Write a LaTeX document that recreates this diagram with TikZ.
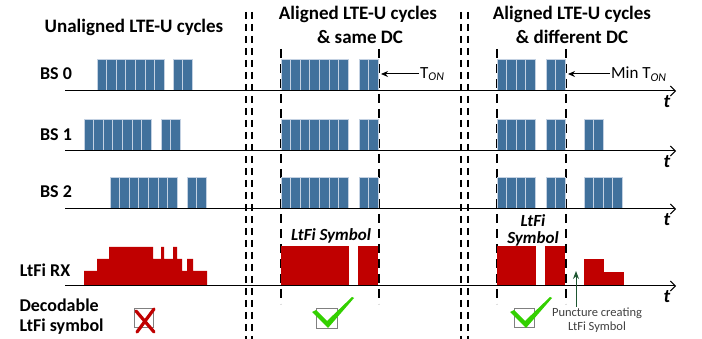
\documentclass[tikz,border=0pt]{standalone}
\usepackage{fontspec}
\setmainfont{Carlito}
\usetikzlibrary{arrows.meta}
\definecolor{blk}{HTML}{41719C}
\definecolor{blkedge}{HTML}{C3D1E2}
\definecolor{rx}{HTML}{C00000}
\definecolor{chk}{HTML}{33D000}
\definecolor{punc}{HTML}{1E5631}
\definecolor{txtgray}{HTML}{404040}
\newcommand\blkrow[3]{%
  \foreach \i in {1,...,#2} {\draw[blockbox] ({#1+(\i-1)*9.6},#3-1) rectangle ++(9.6,-31);}}
\begin{document}
\begin{tikzpicture}[x=1pt,y=-1pt,
  blockbox/.style={fill=blk,draw=blkedge,line width=0.7pt},
  rxbox/.style={fill=rx,draw=none},
  axisline/.style={line width=1pt,-{Straight Barb[length=5pt,width=10pt,line width=1pt]}},
  sepline/.style={line width=1.2pt,dash pattern=on 7pt off 5pt},
  markline/.style={line width=1.2pt,dash pattern=on 9pt off 6pt},
  head/.style={font=\fontsize{19}{21}\selectfont\bfseries},
  rowlab/.style={font=\fontsize{18}{20}\selectfont\bfseries},
  tlab/.style={font=\fontsize{19}{21}\selectfont\bfseries\itshape},
  symlab/.style={font=\fontsize{17}{19}\selectfont\bfseries\itshape,inner sep=0pt},
  ann/.style={font=\fontsize{17}{19}\selectfont},
  small/.style={font=\fontsize{12.5}{14.5}\selectfont,text=txtgray},
  cbox/.style={draw=gray,line width=1pt},
  ptr/.style={line width=1pt,-{Stealth[length=8pt,width=6pt]}}]
\useasboundingbox (0,0) rectangle (702,339);

% headers
\node[head] (h1) at (134,27) {Unaligned LTE-U cycles};
\node[head] (h2a) at (358,14) {Aligned LTE-U cycles};
\node[head] (h2b) at (360,37) {\& same DC};
\node[head] (h3a) at (572,14) {Aligned LTE-U cycles};
\node[head] (h3b) at (572,37) {\& different DC};

% row labels
\node[rowlab] (l0) at (56,74) {BS 0};
\node[rowlab] (l1) at (56,135) {BS 1};
\node[rowlab] (l2) at (56,192) {BS 2};
\node[rowlab] (lrx) at (45,270) {LtFi RX};
\node[rowlab,anchor=west] (ld1) at (16,305) {Decodable};
\node[rowlab,anchor=west] (ld2) at (16,327) {LtFi symbol};

% separator lines
\foreach \x in {246,252,461,468} {\draw[sepline] (\x,12) -- (\x,339);}
% marker lines
\foreach \x in {281,379,497,566} {\draw[markline] (\x,49) -- (\x,304);}

% blocks BS0
\blkrow{97}{7}{91}\blkrow{173}{2}{91}
\blkrow{281}{7}{91}\blkrow{359}{2}{91}
\blkrow{497}{4}{91}\blkrow{546}{2}{91}
% BS1
\blkrow{84}{7}{151}\blkrow{161}{2}{151}
\blkrow{281}{7}{151}\blkrow{359}{2}{151}
\blkrow{497}{4}{151}\blkrow{546}{2}{151}\blkrow{584}{2}{151}
% BS2
\blkrow{110}{7}{209}\blkrow{187}{2}{209}
\blkrow{281}{7}{209}\blkrow{359}{2}{209}
\blkrow{497}{4}{209}\blkrow{546}{2}{209}\blkrow{584}{4}{209}

% LtFi RX
\fill[rx] (84,285) -- (84,271) -- (97,271) -- (97,259) -- (109,259) -- (109,247)
  -- (153,247) -- (153,259) -- (161,259) -- (161,247) -- (164,247) -- (164,259)
  -- (173,259) -- (173,247) -- (177,247) -- (177,259) -- (182,259) -- (182,271)
  -- (187,271) -- (187,259) -- (193,259) -- (193,271) -- (207,271) -- (207,285) -- cycle;
\fill[rx] (281,246) rectangle (349,285);
\fill[rx] (358,246) rectangle (378,285);
\fill[rx] (497,246) rectangle (536,285);
\fill[rx] (545,246) rectangle (565,285);
\fill[rx] (584,259) rectangle (604,285);
\fill[rx] (604,272) rectangle (624,285);

% axes
\foreach \y/\n in {91/a0,151/a1,209/a2,286/a3} {
  \coordinate (\n s) at (65,\y);
  \coordinate (\n e) at (676,\y);
  \draw[axisline] (\n s) -- (\n e);
  \node[tlab] at (667,\y+11) {t};
}

% T_ON annotations
\node[ann,anchor=west,inner sep=1pt] (ton) at (419,74) {T\textsubscript{\textit{ON}}};
\coordinate (tonend) at (381,74);
\draw[line width=1pt,-{Stealth[length=7pt,width=6pt]}] (ton.west) -- (tonend);
\node[ann,anchor=west,inner sep=1pt] (mton) at (610,74) {Min T\textsubscript{\textit{ON}}};
\coordinate (mtonend) at (568,74);
\draw[line width=1pt,-{Stealth[length=7pt,width=6pt]}] (mton.west) -- (mtonend);

% LtFi symbol labels
\node[symlab] (sym1) at (331,236) {LtFi Symbol};
\node[symlab] (sym2a) at (533,220.5) {LtFi};
\node[symlab] (sym2b) at (533,239) {Symbol};

% puncture
\node[small,align=center] (punc) at (597,320) {Puncture creating\\LtFi Symbol};
\coordinate (punctop) at (576,271);
\draw[ptr,punc] (576,307) -- (punctop);

% checkboxes
\draw[cbox] (134,309) rectangle (153,328);
\draw[rx,line width=3.2pt,line cap=round] (136,311) -- (154,332);
\draw[rx,line width=3.2pt,line cap=round] (154,309) -- (137,332);

\draw[cbox] (316,309) rectangle (337,329);
\fill[chk] (312,312) -- (316,310) -- (327,321) -- (352,297) -- (354,298) -- (328,328) -- cycle;

\draw[cbox] (514,309) rectangle (534,328);
\fill[chk] (510,312) -- (514,310) -- (525,321) -- (550,297) -- (552,298) -- (526,328) -- cycle;
\end{tikzpicture}
\end{document}
